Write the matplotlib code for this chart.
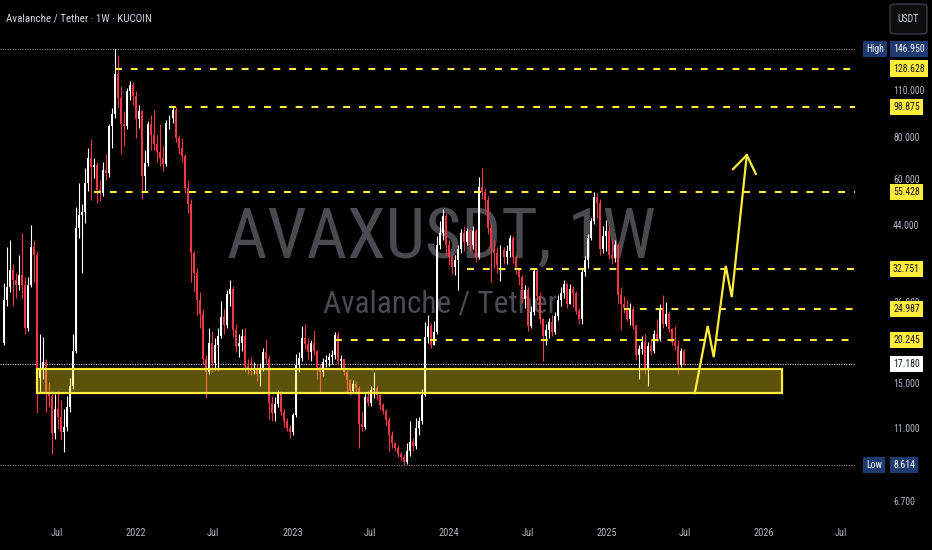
import numpy as np
import pandas as pd
import matplotlib
matplotlib.use('Agg')
import matplotlib.pyplot as plt
import matplotlib.dates as mdates
from matplotlib.patches import Rectangle, FancyBboxPatch
from matplotlib.ticker import NullLocator
from matplotlib.transforms import blended_transform_factory
from matplotlib import font_manager as fm

# weekly candles, KUCOIN AVAX/USDT
weeks = pd.date_range('2021-03-01', periods=227, freq='7D')
first_open = 19.8
close = [26.6, 29.0, 32.5, 30.5, 29.5, 31.5, 29.5, 22.0, 29.5, 38.0,
         36.0, 15.6, 16.6, 17.4, 14.2, 13.8, 10.7, 12.6, 12.0, 10.8,
         11.2, 12.8, 14.8, 18.8, 43.4, 47.4, 48.3, 59.0, 69.7, 65.6,
         66.5, 56.2, 55.0, 64.2, 63.0, 87.0, 94.3, 124.0, 105.0, 88.0,
         87.0, 110.0, 115.0, 107.0, 91.0, 96.0, 62.0, 67.5, 88.0, 82.0,
         77.0, 73.0, 70.0, 67.0, 89.0, 92.0, 97.0, 80.0, 75.0, 71.0,
         57.0, 51.0, 36.5, 32.0, 26.5, 24.2, 17.8, 16.3, 19.8, 17.3,
         19.5, 20.8, 23.7, 22.4, 27.6, 28.7, 21.6, 19.4, 19.8, 20.8,
         16.9, 16.5, 16.4, 16.7, 16.0, 16.6, 18.6, 17.8, 13.2, 12.3,
         13.1, 14.0, 12.4, 11.6, 11.1, 10.8, 12.1, 17.0, 17.9, 20.5,
         19.7, 18.6, 19.8, 18.7, 16.8, 16.3, 17.4, 17.7, 18.0, 18.2,
         20.9, 17.5, 17.8, 16.3, 15.4, 14.3, 15.0, 14.6, 11.4, 11.2,
         13.7, 13.2, 14.4, 14.6, 13.9, 13.0, 12.5, 11.7, 10.6, 10.0,
         9.7, 9.3, 9.1, 8.8, 9.5, 10.1, 9.8, 11.1, 11.6, 13.9,
         20.6, 22.3, 19.6, 21.4, 38.7, 42.0, 47.0, 38.5, 35.5, 33.2,
         34.8, 37.5, 42.0, 39.5, 42.5, 38.5, 42.5, 35.5, 57.5, 55.6,
         52.5, 43.5, 37.5, 36.5, 33.8, 37.4, 35.5, 37.0, 40.6, 35.5,
         32.5, 31.0, 26.7, 28.4, 22.3, 24.5, 32.3, 27.2, 23.3, 20.8,
         21.7, 22.8, 21.3, 23.8, 26.6, 27.8, 29.6, 25.9, 28.6, 27.9,
         24.7, 23.4, 32.1, 34.9, 40.6, 45.6, 53.6, 51.5, 37.5, 41.0,
         42.5, 36.2, 35.4, 38.6, 27.4, 25.8, 25.2, 23.4, 25.0, 22.2,
         18.2, 19.0, 20.0, 16.5, 19.4, 18.8, 21.0, 20.3, 25.1, 22.6,
         24.2, 21.8, 20.0, 19.4, 17.0, 18.8, 17.18]
high = [29.8, 38.0, 40.0, 34.0, 32.0, 36.0, 42.0, 31.0, 31.0, 44.3,
        40.0, 37.0, 21.0, 20.7, 17.8, 15.2, 14.3, 14.0, 14.3, 13.4,
        12.6, 13.8, 15.6, 21.0, 50.0, 59.0, 51.0, 65.4, 75.0, 79.7,
        70.0, 68.0, 60.0, 68.0, 72.0, 88.0, 98.3, 146.95, 141.0, 114.0,
        96.0, 113.0, 118.0, 117.0, 110.0, 100.0, 97.0, 74.0, 90.0, 94.0,
        97.0, 82.0, 88.0, 76.0, 90.5, 94.0, 99.5, 99.0, 82.0, 80.0,
        72.0, 60.0, 53.0, 37.0, 33.0, 28.0, 25.0, 18.2, 21.9, 21.5,
        20.5, 22.0, 26.4, 25.0, 28.5, 30.4, 29.2, 22.6, 21.0, 21.8,
        21.9, 17.8, 18.0, 17.4, 17.2, 17.3, 19.2, 20.4, 18.2, 13.8,
        13.7, 14.4, 14.3, 12.6, 11.9, 11.3, 12.3, 18.4, 18.6, 22.2,
        22.5, 20.5, 20.2, 21.7, 18.9, 17.2, 17.9, 18.2, 18.5, 18.9,
        21.4, 21.3, 18.3, 17.8, 16.5, 15.5, 15.4, 15.3, 14.8, 12.5,
        14.0, 14.4, 14.8, 16.2, 14.8, 14.0, 13.2, 12.6, 12.0, 10.9,
        10.1, 9.9, 9.4, 9.3, 10.0, 11.6, 10.4, 11.9, 12.0, 14.5,
        22.8, 24.0, 22.7, 23.0, 41.2, 45.5, 49.5, 48.0, 40.0, 36.5,
        36.0, 38.5, 43.0, 44.0, 43.5, 43.0, 44.0, 43.0, 61.5, 65.4,
        57.0, 54.0, 45.0, 40.0, 38.0, 38.5, 38.0, 38.6, 41.3, 41.0,
        36.0, 33.0, 31.5, 29.5, 29.0, 25.5, 33.0, 32.8, 28.0, 23.5,
        22.6, 23.5, 24.0, 24.5, 27.5, 29.0, 30.4, 29.8, 29.6, 29.2,
        28.3, 25.2, 32.8, 35.8, 41.5, 46.5, 55.4, 55.2, 53.0, 44.0,
        45.8, 44.0, 40.5, 40.0, 39.2, 29.0, 27.2, 26.5, 26.0, 25.5,
        22.5, 19.6, 20.8, 21.0, 19.9, 20.3, 21.7, 23.3, 25.8, 27.4,
        26.2, 24.5, 22.0, 22.2, 20.2, 19.2, 19.0]
low = [19.5, 25.5, 28.0, 25.5, 27.0, 28.5, 27.0, 21.0, 21.5, 29.0,
       30.0, 12.3, 14.1, 15.5, 12.4, 12.8, 9.3, 10.3, 11.0, 10.3,
       9.4, 10.9, 12.4, 14.5, 18.5, 40.6, 32.0, 45.0, 56.0, 52.6,
       61.0, 51.5, 52.0, 54.0, 60.0, 61.5, 75.0, 92.0, 98.0, 72.0,
       76.0, 85.0, 104.0, 100.0, 80.0, 86.0, 53.0, 56.0, 66.0, 74.0,
       74.0, 68.0, 66.0, 64.0, 66.0, 85.0, 89.0, 78.0, 72.0, 68.0,
       55.0, 48.0, 30.0, 28.0, 24.0, 22.0, 17.2, 13.6, 16.0, 16.3,
       16.5, 16.5, 20.5, 21.0, 22.0, 25.5, 20.6, 18.6, 18.0, 18.8,
       16.4, 16.0, 15.9, 16.0, 15.3, 14.8, 16.4, 17.2, 11.8, 11.6,
       11.6, 12.8, 12.1, 11.2, 10.9, 10.4, 10.6, 12.0, 16.3, 17.5,
       19.0, 17.8, 17.5, 18.3, 15.5, 14.1, 15.8, 16.8, 16.9, 17.2,
       17.8, 17.0, 16.6, 15.9, 14.2, 13.9, 14.1, 14.0, 9.7, 10.9,
       11.0, 12.9, 12.9, 13.6, 13.4, 12.6, 12.2, 11.3, 9.5, 9.7,
       9.5, 9.1, 8.9, 8.614, 8.7, 9.2, 9.5, 9.6, 10.6, 11.4,
       13.8, 19.8, 19.2, 19.5, 21.0, 37.5, 40.0, 36.0, 33.6, 31.8,
       31.5, 28.5, 36.5, 37.0, 38.5, 37.0, 37.5, 34.5, 35.0, 53.0,
       49.0, 41.5, 30.0, 33.0, 32.0, 30.3, 34.0, 34.0, 35.5, 34.2,
       31.8, 29.5, 26.0, 25.2, 21.5, 22.0, 24.0, 26.5, 22.5, 17.5,
       19.5, 20.5, 20.8, 21.0, 23.2, 25.5, 27.0, 25.2, 25.8, 25.4,
       24.2, 22.6, 22.5, 31.2, 33.0, 40.0, 44.5, 46.5, 36.0, 36.5,
       37.0, 35.0, 34.0, 34.5, 26.0, 21.6, 24.3, 23.0, 22.4, 21.8,
       17.6, 15.5, 18.4, 16.0, 14.8, 18.2, 18.5, 19.9, 20.1, 22.0,
       22.3, 21.3, 19.5, 18.9, 16.0, 16.8, 17.0]

# drawn levels
levels = [128.628, 98.875, 55.428, 32.751, 24.987, 20.245]
level_start = ['2021-11-15', '2022-03-21', '2021-09-27', '2024-02-12', '2025-02-10', '2023-04-10']
price_ticks = [110, 80, 60, 44, 26, 15, 11, 6.7]
ath, atl, last = 146.95, 8.614, 17.18

zone_start, zone_end = '2021-05-17', '2026-02-14'
zone_low, zone_high = 14.05, 16.55

path_dates = ['2025-07-25', '2025-08-24', '2025-09-07', '2025-10-05', '2025-10-19', '2025-11-23']
path_prices = [14.08, 22.24, 18.0, 33.5, 27.1, 71.35]
head_dates = ['2025-10-22', '2025-11-23', '2025-12-14']
head_prices = [64.8, 71.35, 62.7]

tick_dates = ['2021-07-01', '2022-01-01', '2022-07-01', '2023-01-01', '2023-07-01', '2024-01-01',
              '2024-07-01', '2025-01-01', '2025-07-01', '2026-01-01', '2026-07-01']
tick_labels = ['Jul', '2022', 'Jul', '2023', 'Jul', '2024', 'Jul', '2025', 'Jul', '2026', 'Jul']


def narrow_font():
    names = {f.name for f in fm.fontManager.ttflist}
    for n in ['Roboto Condensed', 'Liberation Sans Narrow', 'Open Sans Condensed',
              'DejaVu Sans Condensed', 'Noto Sans Condensed']:
        if n in names:
            return n, 'normal'
    for f in fm.fontManager.ttflist:
        if f.name in ('DejaVu Sans', 'Noto Sans', 'Open Sans', 'Roboto') and \
                str(f.stretch) in ('condensed', 'semi-condensed', 'extra-condensed'):
            return f.name, f.stretch
    return 'DejaVu Sans', 'normal'


FONT, STRETCH = narrow_font()
TXT = dict(fontfamily=FONT, fontstretch=STRETCH)

RED = '#f23645'
YEL = '#ffeb3b'
GRAY = '#b2b5be'

fig = plt.figure(figsize=(9.32, 5.5), dpi=100, facecolor='black')
ax = fig.add_axes([0, 33 / 550, 855 / 932, 517 / 550])
ax.set_facecolor('black')
ax.set_yscale('log')
ax.set_ylim(6.05, 205.2)
x0 = mdates.date2num(pd.Timestamp('2021-03-01'))
ax.set_xlim(x0 - 9.3, x0 + 1979.7)
for s in ax.spines.values():
    s.set_visible(False)
ax.set_yticks([])
ax.yaxis.set_minor_locator(NullLocator())

# watermark
ax.text(0.516, 0.537, 'AVAXUSDT, 1W', transform=ax.transAxes, ha='center', va='center',
        fontsize=50.5, color='#4a4a50', zorder=0, **TXT)
ax.text(0.515, 0.412, 'Avalanche / Tether', transform=ax.transAxes, ha='center', va='center',
        fontsize=22.6, color='#4a4a50', zorder=0, **TXT)

# candles
xd = mdates.date2num(weeks.to_pydatetime())
c = np.array(close)
o = np.r_[first_open, c[:-1]]
col = np.where(c >= o, '#ffffff', RED)
ax.vlines(xd, low, high, colors=col, linewidth=0.8, zorder=2)
ax.bar(xd, np.abs(c - o), bottom=np.minimum(o, c), width=4.6, color=col, linewidth=0, zorder=2)

# support zone
zs = mdates.date2num(pd.Timestamp(zone_start))
ze = mdates.date2num(pd.Timestamp(zone_end))
ax.add_patch(Rectangle((zs, zone_low), ze - zs, zone_high - zone_low,
                       facecolor=(0.98, 0.88, 0.1, 0.37), edgecolor=YEL, linewidth=1.6, zorder=3))

# dotted high / low / last lines
xr = ax.get_xlim()[1]
for v in (ath, atl):
    ax.hlines(v, ax.get_xlim()[0], xr, colors='#8a8d96', linestyles=(0, (1, 1.2)), linewidth=0.8, zorder=1)
ax.hlines(last, ax.get_xlim()[0], xr, colors='#d8d8d8', linestyles=(0, (1, 1.2)), linewidth=0.8, zorder=1)

# dashed levels
for lv, st in zip(levels, level_start):
    ax.hlines(lv, mdates.date2num(pd.Timestamp(st)), xr, colors=YEL,
              linestyles=(0, (3.3, 4.3)), linewidth=1.5, zorder=4)

# projection arrow
ax.plot(mdates.date2num(pd.to_datetime(path_dates)), path_prices, color=YEL, lw=1.6, zorder=5,
        solid_joinstyle='miter')
ax.plot(mdates.date2num(pd.to_datetime(head_dates)), head_prices, color=YEL, lw=1.6, zorder=5)

# time axis
ax.set_xticks(mdates.date2num(pd.to_datetime(tick_dates)))
ax.set_xticklabels(tick_labels, **TXT)
ax.tick_params(axis='x', length=0, pad=8, colors=GRAY, labelsize=7.5)

# price scale
tr = blended_transform_factory(fig.transFigure, ax.transData)
xl = 893 / 932
for v in price_ticks:
    ax.text(xl, v, f'{v:.3f}', transform=tr, color=GRAY, fontsize=7, va='center', ha='left',
            zorder=6, **TXT)
for lv in levels:
    ax.text(xl, lv, f'{lv:.3f}', transform=tr, color='#131722', fontsize=7, va='center', ha='left',
            zorder=7, bbox=dict(boxstyle='square,pad=0.32', fc=YEL, ec='none'), **TXT)
ax.text(xl, last, f'{last:.3f}', transform=tr, color='#131722', fontsize=7, va='center', ha='left',
        zorder=7, bbox=dict(boxstyle='square,pad=0.32', fc='#ffffff', ec='none'), **TXT)
for name, v in (('High', ath), ('Low', atl)):
    ax.text(xl, v, f'{v:.3f}', transform=tr, color='#ffffff', fontsize=7, va='center', ha='left',
            zorder=7, bbox=dict(boxstyle='square,pad=0.32', fc='#1e3a6e', ec='none'), **TXT)
    ax.text(866 / 932, v, name, transform=tr, color='#ffffff', fontsize=7, va='center', ha='left',
            zorder=7, bbox=dict(boxstyle='square,pad=0.32', fc='#1e3a6e', ec='none'), **TXT)

# header
fig.text(6 / 932, 1 - 18 / 550, 'Avalanche / Tether · 1W · KUCOIN', color='#d1d4dc', fontsize=7.9,
         va='center', ha='left', **TXT)
fig.patches.append(FancyBboxPatch((890 / 932, 1 - 34 / 550), 37 / 932, 30 / 550,
                                  boxstyle='round,pad=0,rounding_size=0.006', transform=fig.transFigure,
                                  fc='#0e0e0e', ec='#3a3d45', lw=1))
fig.text(908.5 / 932, 1 - 19 / 550, 'USDT', color='#d1d4dc', fontsize=7, ha='center', va='center', **TXT)

fig.savefig('out.png', dpi=100, facecolor='black')
